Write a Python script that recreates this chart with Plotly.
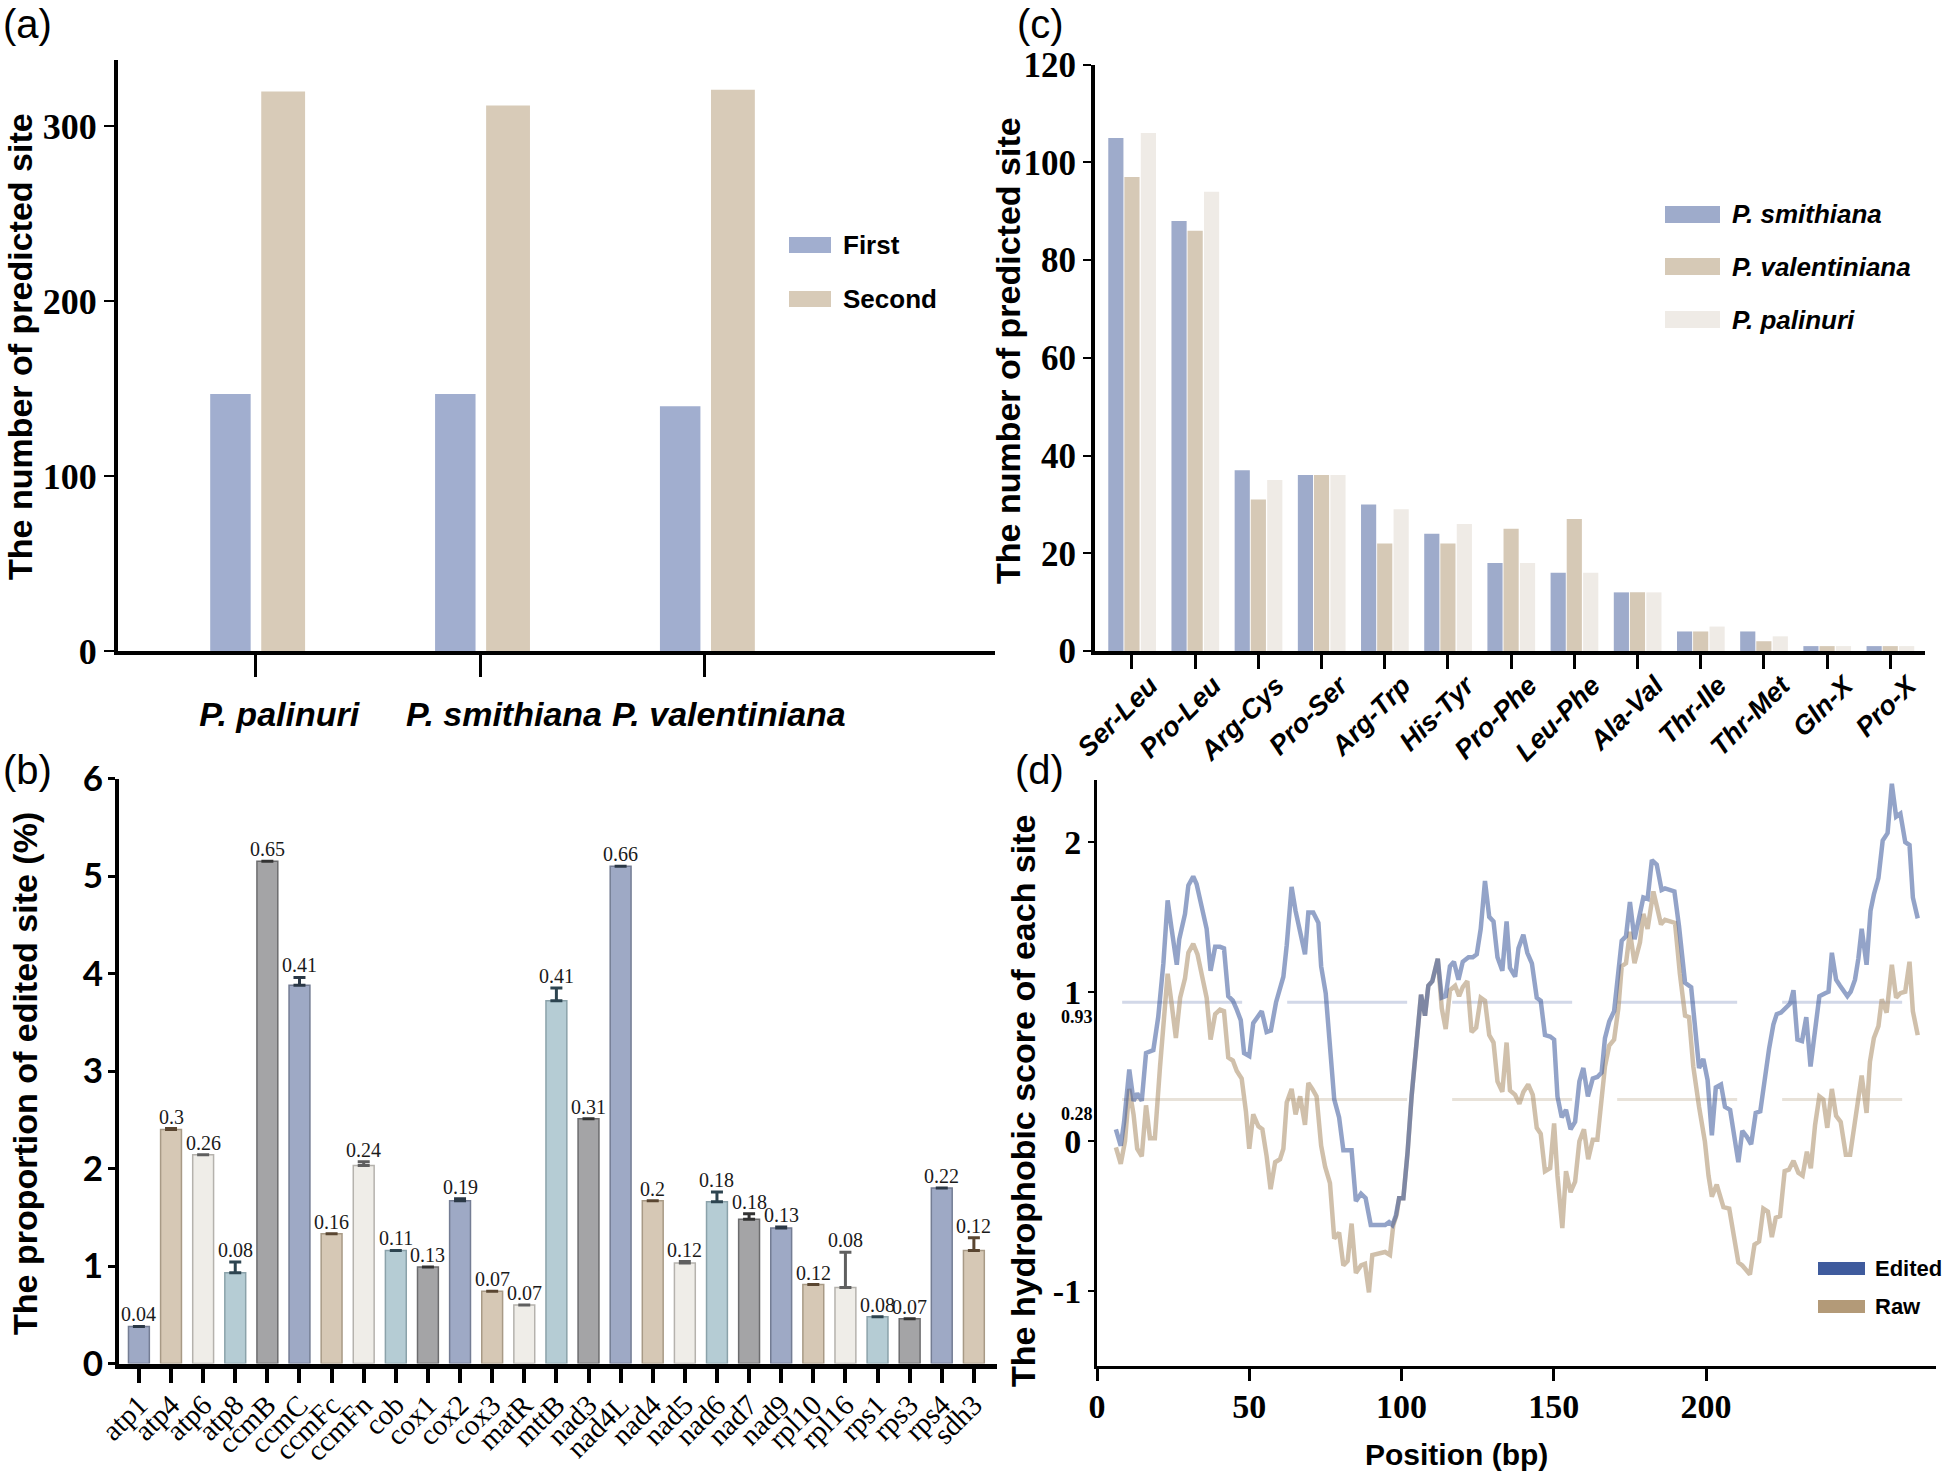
import plotly.graph_objects as go

W, H = 1945, 1472

# ---------------- Panel (a) ----------------
species_a = ["P. palinuri", "P. smithiana", "P. valentiniana"]
first_a = [147, 147, 140]
second_a = [320, 312, 321]

# ---------------- Panel (b) ----------------
genes = ["atp1", "atp4", "atp6", "atp8", "ccmB", "ccmC", "ccmFc", "ccmFn", "cob", "cox1",
         "cox2", "cox3", "matR", "mttB", "nad3", "nad4L", "nad4", "nad5", "nad6", "nad7",
         "nad9", "rpl10", "rpl16", "rps1", "rps3", "rps4", "sdh3"]
proportion = [0.38, 2.40, 2.14, 0.93, 5.15, 3.88, 1.33, 2.03, 1.16, 0.99,
              1.67, 0.74, 0.60, 3.72, 2.51, 5.10, 1.67, 1.03, 1.66, 1.48,
              1.39, 0.81, 0.78, 0.48, 0.46, 1.80, 1.16]
proportion_err = [0, 0.01, 0, 0.11, 0, 0.08, 0, 0.04, 0, 0,
                  0.02, 0, 0, 0.13, 0, 0, 0, 0.015, 0.10, 0.055,
                  0.01, 0, 0.36, 0, 0, 0, 0.13]
bar_labels = ["0.04", "0.3", "0.26", "0.08", "0.65", "0.41", "0.16", "0.24", "0.11", "0.13",
              "0.19", "0.07", "0.07", "0.41", "0.31", "0.66", "0.2", "0.12", "0.18", "0.18",
              "0.13", "0.12", "0.08", "0.08", "0.07", "0.22", "0.12"]

# ---------------- Panel (c) ----------------
substitutions = ["Ser-Leu", "Pro-Leu", "Arg-Cys", "Pro-Ser", "Arg-Trp", "His-Tyr", "Pro-Phe",
                 "Leu-Phe", "Ala-Val", "Thr-Ile", "Thr-Met", "Gln-X", "Pro-X"]
smithiana_c = [105, 88, 37, 36, 30, 24, 18, 16, 12, 4, 4, 1, 1]
valentiniana_c = [97, 86, 31, 36, 22, 22, 25, 27, 12, 4, 2, 1, 1]
palinuri_c = [106, 94, 35, 36, 29, 26, 18, 16, 12, 5, 3, 1, 1]

# ---------------- Panel (d) ----------------
pos_edited = [6.2, 7.8, 8.9, 10.6, 12.0, 13.2, 14.7, 16.1, 18.5, 20.1, 21.8, 23.2, 24.5, 26.2, 27.0,
              28.9, 30.0, 31.6, 32.7, 34.4, 36.0, 37.3, 38.8, 40.4, 41.7, 43.1, 44.6, 45.9, 47.2,
              48.3, 50.0, 51.3, 54.1, 55.7, 57.1, 58.8, 59.8, 61.2, 62.3, 63.9, 65.2, 66.3, 68.3,
              69.4, 71.0, 72.7, 73.6, 75.1, 76.5, 77.9, 79.5, 80.9, 83.6, 85.0, 86.7, 88.2, 89.9,
              94.6, 95.9, 97.0, 98.1, 99.2, 100.6, 102.0, 103.3, 105.0, 106.4, 107.7, 108.8, 110.1,
              111.9, 113.2, 114.5, 115.9, 117.2, 118.7, 120.1, 122.0, 123.4, 124.7, 126.0, 127.4,
              128.8, 130.2, 131.5, 133.1, 134.5, 135.6, 137.3, 138.4, 140.0, 141.3, 142.8, 144.4,
              145.7, 147.1, 148.8, 150.1, 151.2, 152.6, 154.0, 155.5, 157.0, 158.4, 159.7, 161.2,
              162.8, 164.3, 165.7, 166.8, 168.2, 169.8, 171.2, 172.3, 173.7, 175.0, 176.5, 178.3,
              179.4, 180.8, 182.2, 183.8, 185.4, 186.5, 188.2, 189.6, 191.1, 193.1, 195.1, 196.4,
              197.7, 199.1, 200.5, 201.9, 203.2, 204.9, 206.2, 207.9, 209.3, 210.6, 211.9, 213.4,
              214.8, 216.3, 217.8, 219.2, 220.7, 222.1, 223.2, 224.6, 226.2, 227.6, 228.7, 230.0,
              231.5, 232.9, 234.3, 235.8, 237.2, 239.1, 240.2, 241.3, 242.7, 244.0, 245.3, 246.4,
              247.5, 248.9, 250.0, 251.1, 252.7, 254.0, 255.1, 256.6, 258.0, 259.6, 261.0, 262.4,
              263.8, 265.4, 266.8, 267.9, 269.5]
score_edited = [0.08, -0.03, 0.13, 0.48, 0.27, 0.32, 0.27, 0.59, 0.61, 0.83, 1.19, 1.61, 1.42, 1.18, 1.35,
                1.52, 1.71, 1.77, 1.72, 1.58, 1.42, 1.14, 1.30, 1.30, 1.29, 0.97, 0.94, 0.88, 0.81,
                0.59, 0.57, 0.79, 0.87, 0.73, 0.74, 0.93, 1.00, 1.10, 1.31, 1.70, 1.54, 1.44, 1.25,
                1.53, 1.53, 1.46, 1.17, 0.99, 0.63, 0.28, 0.16, -0.06, -0.06, -0.40, -0.35, -0.38, -0.56,
                -0.56, -0.54, -0.56, -0.50, -0.38, -0.38, -0.07, 0.30, 0.69, 0.98, 0.84, 1.04, 1.07,
                1.22, 0.96, 0.97, 1.17, 1.20, 1.08, 1.20, 1.23, 1.23, 1.25, 1.42, 1.74,
                1.50, 1.47, 1.23, 1.14, 1.47, 1.16, 1.10, 1.29, 1.38, 1.26, 1.19, 0.96,
                0.94, 0.71, 0.70, 0.68, 0.30, 0.16, 0.21, 0.08, 0.13, 0.40, 0.49, 0.30,
                0.42, 0.43, 0.46, 0.69, 0.80, 0.87, 1.12, 1.34, 1.37, 1.60, 1.35, 1.52,
                1.63, 1.62, 1.88, 1.85, 1.68, 1.69, 1.68, 1.67, 1.44, 1.06, 1.03, 0.73,
                0.49, 0.55, 0.41, 0.04, 0.36, 0.38, 0.23, 0.21, 0.04, -0.14, 0.07, 0.03,
                -0.02, 0.19, 0.20, 0.43, 0.62, 0.78, 0.85, 0.86, 0.89, 0.92, 1.01, 0.68,
                0.67, 0.83, 0.50, 0.73, 0.97, 0.99, 1.00, 1.26, 1.08, 1.04, 1.00, 0.97,
                1.00, 1.08, 1.22, 1.42, 1.18, 1.54, 1.65, 1.76, 2.01, 2.06, 2.39, 2.17,
                2.19, 2.00, 1.98, 1.63, 1.49]
pos_raw = [6.2, 7.8, 9.2, 10.6, 12.0, 13.2, 14.7, 16.1, 17.4, 19.0, 20.7, 23.2, 24.5, 25.9, 27.3,
           28.9, 30.0, 31.6, 33.0, 34.4, 36.0, 37.3, 38.8, 40.4, 41.7, 43.1, 44.6, 45.9, 47.5,
           48.9, 50.0, 51.3, 53.0, 54.3, 55.7, 57.0, 58.5, 60.1, 61.2, 62.3, 63.9, 65.2, 66.7,
           68.3, 69.4, 70.7, 72.1, 73.6, 74.9, 76.5, 77.9, 79.5, 80.9, 82.3, 83.6, 85.0, 86.7,
           88.0, 89.3, 90.4, 93.5, 94.6, 96.2, 97.3, 98.4, 99.2, 100.6, 102.0, 103.3, 105.0,
           106.4, 107.7, 108.8, 110.1, 111.9, 113.2, 114.5, 115.9, 117.6, 118.9, 120.1, 121.6,
           123.0, 124.5, 126.0, 127.4, 128.8, 130.2, 131.5, 133.1, 134.5, 135.6, 137.3, 138.7,
           140.0, 141.6, 143.1, 144.4, 145.7, 147.1, 148.8, 150.1, 151.2, 152.8, 154.0, 155.5,
           157.0, 158.4, 159.9, 161.3, 162.8, 164.3, 165.7, 166.8, 168.2, 169.8, 171.2, 172.3,
           173.7, 175.0, 176.5, 178.3, 179.4, 180.8, 182.7, 183.8, 185.2, 186.5, 188.2, 189.8,
           191.4, 193.1, 194.4, 195.8, 197.7, 199.6, 200.8, 201.9, 203.5, 205.7, 207.6, 209.0,
           210.6, 211.9, 213.0, 214.4, 215.9, 217.4, 218.8, 220.3, 221.6, 222.9, 224.3, 225.8,
           227.2, 228.7, 230.3, 231.7, 233.1, 234.4, 235.8, 237.2, 238.5, 239.8, 241.3, 242.7,
           244.2, 245.9, 247.3, 248.6, 250.0, 251.1, 252.7, 253.8, 255.1, 256.6, 257.7, 259.3,
           261.0, 262.4, 263.8, 265.4, 266.8, 267.9, 269.5]
score_raw = [-0.04, -0.15, 0.00, 0.35, 0.18, -0.05, -0.10, 0.24, 0.02, 0.02, 0.50, 1.12, 0.92, 0.69, 0.96,
             1.09, 1.26, 1.32, 1.25, 1.12, 0.96, 0.68, 0.85, 0.88, 0.87, 0.56, 0.54, 0.47, 0.42,
             0.20, -0.05, 0.18, 0.10, 0.08, -0.10, -0.32, -0.14, -0.12, -0.05, 0.26, 0.35, 0.18, 0.30,
             0.11, 0.39, 0.35, 0.30, -0.03, -0.17, -0.28, -0.65, -0.61, -0.83, -0.80, -0.55, -0.88, -0.83,
             -0.82, -1.01, -0.76, -0.75, -0.74, -0.76, -0.56, -0.49, -0.38, -0.38, -0.07, 0.30, 0.69,
             0.98, 0.84, 1.04, 1.07, 1.22, 0.89, 0.75, 1.01, 1.04, 0.97, 1.03, 1.07,
             0.73, 0.76, 0.96, 0.94, 0.71, 0.66, 0.40, 0.33, 0.66, 0.34, 0.31, 0.25,
             0.33, 0.38, 0.31, 0.09, 0.05, -0.20, -0.18, 0.12, -0.23, -0.58, -0.20, -0.34,
             -0.27, 0.00, 0.08, -0.12, 0.01, 0.01, 0.26, 0.50, 0.64, 0.68, 0.89, 1.17,
             1.19, 1.40, 1.19, 1.33, 1.52, 1.42, 1.67, 1.58, 1.45, 1.48, 1.47, 1.46,
             1.12, 0.84, 0.83, 0.50, 0.23, 0.00, -0.23, -0.37, -0.29, -0.44, -0.45, -0.63,
             -0.81, -0.83, -0.86, -0.89, -0.69, -0.67, -0.45, -0.47, -0.64, -0.51, -0.50, -0.20,
             -0.19, -0.13, -0.21, -0.23, -0.07, -0.18, 0.11, 0.30, 0.28, 0.09, 0.35, 0.17,
             0.13, -0.09, -0.09, 0.08, 0.26, 0.44, 0.19, 0.53, 0.69, 0.77, 0.95, 0.86,
             1.18, 0.96, 0.99, 1.00, 1.20, 0.87, 0.71]
thresholds = [0.93, 0.28]
d_yticks = [-1, 0, 1, 2]
d_yticktext = ["-1", "0", "1", "2"]
d_xticks = [0, 50, 100, 150, 200]


def px(x):
    return x / W


def py(y):
    return 1 - y / H


SERIF = "Liberation Serif"
SANS = "Liberation Sans"

fig = go.Figure()

# ---- (a) bars ----
A_BLUE, A_TAN = "#a1aecf", "#d8cbb8"
fig.add_trace(go.Bar(x=species_a, y=first_a, name="First", marker=dict(color=A_BLUE, line=dict(width=0)),
                     offset=-0.2, width=0.18, xaxis="x", yaxis="y"))
fig.add_trace(go.Bar(x=species_a, y=second_a, name="Second", marker=dict(color=A_TAN, line=dict(width=0)),
                     offset=0.027, width=0.195, xaxis="x", yaxis="y"))

# ---- (b) bars ----
fills = ["#9ea9c5", "#d6c8b5", "#efede8", "#b5ccd4", "#a4a4a6"]
edges = ["#747d94", "#a89a86", "#b5b2ad", "#8ba2aa", "#6c6c6e"]
errcols = ["#2b3846", "#5a4631", "#5f5f5f", "#2d4450", "#333333"]
for k in range(5):
    idx = list(range(k, len(genes), 5))
    fig.add_trace(go.Bar(
        x=[genes[i] for i in idx], y=[proportion[i] for i in idx],
        marker=dict(color=fills[k], line=dict(color=edges[k], width=1.5)),
        offset=-0.325, width=0.65,
        error_y=dict(type="data", symmetric=False,
                     array=[proportion_err[i] if proportion_err[i] > 0 else None for i in idx],
                     arrayminus=[0 for i in idx], color=errcols[k], thickness=3, width=6),
        xaxis="x2", yaxis="y2", showlegend=False))

# ---- (c) bars ----
C_BLUE, C_TAN, C_WHITE = "#9eabcb", "#d6c9b6", "#efebe6"
fig.add_trace(go.Bar(x=substitutions, y=smithiana_c, name="P. smithiana", marker=dict(color=C_BLUE, line=dict(width=0)),
                     offset=-0.375, width=0.24, xaxis="x3", yaxis="y3"))
fig.add_trace(go.Bar(x=substitutions, y=valentiniana_c, name="P. valentiniana", marker=dict(color=C_TAN, line=dict(width=0)),
                     offset=-0.12, width=0.24, xaxis="x3", yaxis="y3"))
fig.add_trace(go.Bar(x=substitutions, y=palinuri_c, name="P. palinuri", marker=dict(color=C_WHITE, line=dict(width=0)),
                     offset=0.14, width=0.24, xaxis="x3", yaxis="y3"))

# ---- (d) lines ----
fig.add_trace(go.Scatter(x=pos_raw, y=score_raw, mode="lines", name="Raw",
                         line=dict(color="rgba(179,154,120,0.62)", width=4.5),
                         xaxis="x4", yaxis="y4"))
fig.add_trace(go.Scatter(x=pos_edited, y=score_edited, mode="lines", name="Edited",
                         line=dict(color="rgba(63,91,157,0.56)", width=4.5),
                         xaxis="x4", yaxis="y4"))

ax_common = dict(showgrid=False, zeroline=False, showline=True, linecolor="black",
                 ticks="outside", tickcolor="black", automargin=False)

fig.update_layout(
    width=W, height=H, margin=dict(l=0, r=0, t=0, b=0, autoexpand=False),
    plot_bgcolor="white", paper_bgcolor="white", showlegend=False,
    font=dict(family=SANS, color="black"),
    barmode="group",
    xaxis=dict(ax_common, domain=[px(118), px(995)], anchor="y", type="category",
               categoryorder="array", categoryarray=species_a, range=[-0.61, 3.29],
               tickmode="linear", tick0=0, dtick=1,
               linewidth=4, ticklen=22, tickwidth=3, ticklabelstandoff=8, ticklabelshift=24,
               tickfont=dict(family=SANS, size=34, weight="bold", style="italic")),
    yaxis=dict(ax_common, domain=[py(651), py(60)], anchor="x", range=[0, 338],
               tickvals=[0, 100, 200, 300], linewidth=4, ticklen=10, tickwidth=2,
               tickfont=dict(family=SERIF, size=36, weight="bold")),
    xaxis2=dict(ax_common, domain=[px(119), px(997)], anchor="y2", type="category",
                categoryorder="array", categoryarray=genes, range=[-0.62, 26.72],
                tickmode="linear", tick0=0, dtick=1,
                tickangle=-45, linewidth=5, ticklen=14, tickwidth=4, ticklabelstandoff=-6,
                tickfont=dict(family=SERIF, size=29)),
    yaxis2=dict(ax_common, domain=[py(1363.5), py(778.5)], anchor="x2", range=[0, 6], dtick=1,
                linewidth=4, ticklen=7, tickwidth=3, ticklabelstandoff=-2,
                tickfont=dict(family="Lato", size=35, weight="bold")),
    xaxis3=dict(ax_common, domain=[px(1095), px(1925)], anchor="y3", type="category",
                categoryorder="array", categoryarray=substitutions, range=[-0.585, 12.55],
                tickmode="linear", tick0=0, dtick=1,
                tickangle=-45, linewidth=4, ticklen=14, tickwidth=3,
                ticklabelshift=18, ticklabelstandoff=-10,
                tickfont=dict(family=SANS, size=27, weight="bold", style="italic")),
    yaxis3=dict(ax_common, domain=[py(651), py(64.7)], anchor="x3", range=[0, 120], dtick=20,
                linewidth=4, ticklen=8, tickwidth=2,
                tickfont=dict(family=SERIF, size=35, weight="bold")),
    xaxis4=dict(ax_common, domain=[px(1097), px(1936)], anchor="y4", range=[0, 275.5],
                tickvals=d_xticks, linewidth=3, ticklen=12, tickwidth=3, ticklabelstandoff=-4,
                tickfont=dict(family=SERIF, size=34, weight="bold")),
    yaxis4=dict(ax_common, domain=[py(1366), py(780)], anchor="x4", range=[-1.502, 2.415],
                tickvals=d_yticks, ticktext=d_yticktext, linewidth=3, ticklen=6, tickwidth=2,
                tickfont=dict(family=SERIF, size=34, weight="bold")),
)

shapes = []
annotations = []

# threshold dashed lines in (d) and their small labels beside the axis
for v, col in zip(thresholds, ["#d2d8e8", "#e8e2d9"]):
    shapes.append(dict(type="line", xref="x4 domain", yref="y4", x0=0.03, x1=1.0, y0=v, y1=v,
                       line=dict(color=col, width=3, dash="120px,45px"), layer="below"))
    annotations.append(dict(x=px(1094), y=v, xref="paper", yref="y4", text="%.2f" % v,
                            showarrow=False, xanchor="right", yanchor="top", yshift=-4,
                            borderpad=0,
                            font=dict(family=SERIF, size=18, weight="bold")))

# value labels in (b)
for g, v, e, t in zip(genes, proportion, proportion_err, bar_labels):
    annotations.append(dict(x=g, y=v + e, xref="x2", yref="y2", text=t, showarrow=False,
                            yanchor="bottom", yshift=0, borderpad=0,
                            font=dict(family=SERIF, size=20, color="#1a1a1a")))


def legend_item(x0, x1, y0, y1, color, tx, text, size, style="normal"):
    shapes.append(dict(type="rect", xref="paper", yref="paper", x0=px(x0), x1=px(x1),
                       y0=py(y1), y1=py(y0), fillcolor=color, line=dict(width=0)))
    annotations.append(dict(x=px(tx), y=py((y0 + y1) / 2), xref="paper", yref="paper",
                            text=text, showarrow=False, xanchor="left", yanchor="middle",
                            font=dict(family=SANS, size=size, weight="bold", style=style)))


legend_item(789, 831, 237, 253, A_BLUE, 841, "First", 26)
legend_item(789, 831, 291, 307, A_TAN, 841, "Second", 26)
legend_item(1665, 1720, 206, 223, C_BLUE, 1730, "P. smithiana", 26, "italic")
legend_item(1665, 1720, 258, 275, C_TAN, 1730, "P. valentiniana", 26, "italic")
legend_item(1665, 1720, 311, 328, C_WHITE, 1730, "P. palinuri", 26, "italic")
legend_item(1818, 1865, 1262, 1275, "#3f5b9d", 1873, "Edited", 22)
legend_item(1818, 1865, 1300, 1313, "#b39a78", 1873, "Raw", 22)

# axis titles
def vtitle(x, y, text):
    annotations.append(dict(x=px(x), y=py(y), xref="paper", yref="paper", text=text,
                            showarrow=False, textangle=-90, xanchor="center", yanchor="middle",
                            font=dict(family=SANS, size=34, weight="bold")))


vtitle(20, 347, "The number of predicted site")
vtitle(25, 1074, "The proportion of edited site (%)")
vtitle(1008, 350, "The number of predicted site")
vtitle(1023, 1101, "The hydrophobic score of each site")
annotations.append(dict(x=px(1456), y=py(1454), xref="paper", yref="paper", text="Position (bp)",
                        showarrow=False, xanchor="center", yanchor="middle",
                        font=dict(family=SANS, size=30, weight="bold")))

# panel letters
for lx, ly, lt in [(2, 1, "(a)"), (2, 747, "(b)"), (1016, 1, "(c)"), (1014, 747, "(d)")]:
    annotations.append(dict(x=px(lx), y=py(ly), xref="paper", yref="paper", text=lt,
                            showarrow=False, xanchor="left", yanchor="top", borderpad=0,
                            font=dict(family=SANS, size=40)))

fig.update_layout(shapes=shapes, annotations=annotations)

fig.write_html("out.html", config={"displayModeBar": False},
               post_script="document.body.style.margin='0';")
